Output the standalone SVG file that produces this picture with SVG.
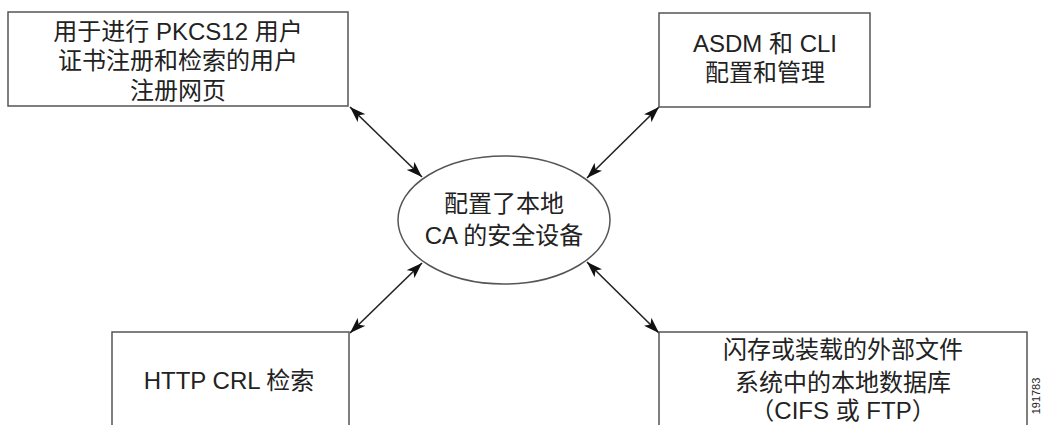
<svg xmlns="http://www.w3.org/2000/svg" width="1042" height="425" viewBox="0 0 1042 425">
<style>
.box{fill:#fff;stroke:#555;stroke-width:1.5}
.t{font-family:"Liberation Sans","Noto Sans CJK SC",sans-serif;font-size:24px;fill:#222;text-anchor:middle;dominant-baseline:central}
.c{stroke:#222;stroke-width:1.6;fill:none;marker-start:url(#ah);marker-end:url(#ah)}
</style>
<defs>
<marker id="ah" viewBox="0 0 16 11" refX="16" refY="5.5" markerWidth="16" markerHeight="11" markerUnits="userSpaceOnUse" orient="auto-start-reverse">
<path d="M0,0 L16,5.5 L0,11 L4,5.5 Z" fill="#111"/>
</marker>
</defs>
<rect width="1042" height="425" fill="#fff"/>
<g id="connectors">
<line class="c" x1="350" y1="107" x2="422" y2="177"/>
<line class="c" x1="659" y1="107" x2="587" y2="178"/>
<line class="c" x1="422" y1="263" x2="350" y2="333"/>
<line class="c" x1="587" y1="262" x2="659" y2="333"/>
</g>
<g id="node-enroll">
<rect class="box" x="8" y="12" width="340" height="94"/>
<text class="t" x="178" y="31">用于进行 PKCS12 用户</text>
<text class="t" x="178" y="60">证书注册和检索的用户</text>
<text class="t" x="178" y="90">注册网页</text>
</g>
<g id="node-asdm">
<rect class="box" x="659" y="13" width="211" height="94"/>
<text class="t" x="765" y="43">ASDM 和 CLI</text>
<text class="t" x="765" y="72">配置和管理</text>
</g>
<g id="node-ca">
<ellipse class="box" cx="504" cy="220" rx="106" ry="64"/>
<text class="t" x="504" y="203">配置了本地</text>
<text class="t" x="504" y="235">CA 的安全设备</text>
</g>
<g id="node-crl">
<rect class="box" x="112" y="332" width="237" height="110"/>
<text class="t" x="229" y="380">HTTP CRL 检索</text>
</g>
<g id="node-db">
<rect class="box" x="659" y="332" width="368" height="110"/>
<text class="t" x="843" y="349">闪存或装载的外部文件</text>
<text class="t" x="843" y="382">系统中的本地数据库</text>
<text class="t" x="843" y="410">（CIFS 或 FTP）</text>
</g>
<text x="1036" y="396" transform="rotate(-90 1036 396)" font-family="Liberation Sans,sans-serif" font-size="11" fill="#222" text-anchor="middle" dominant-baseline="central">191783</text>
</svg>
